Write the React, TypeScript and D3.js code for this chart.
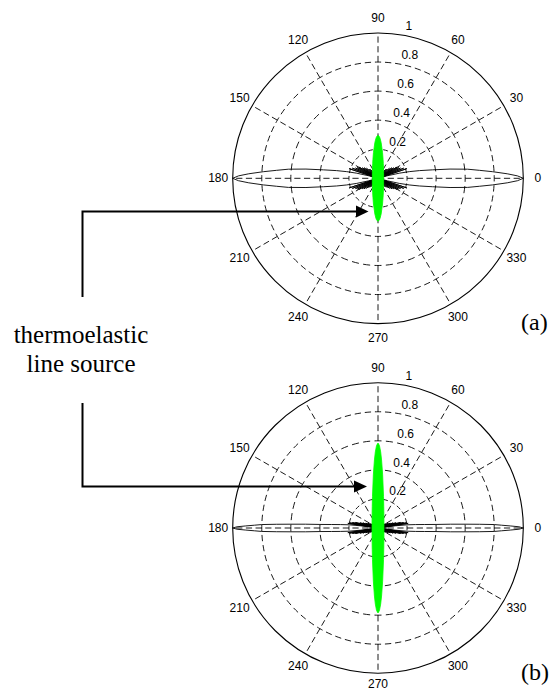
import React from 'react';
import * as d3 from 'd3';

// ---------- data ----------
const angleTicks = [0, 30, 60, 90, 120, 150, 180, 210, 240, 270, 300, 330];
const angleTickLabels = ['0', '30', '60', '90', '120', '150', '180', '210', '240', '270', '300', '330'];
const ringValues = [0.2, 0.4, 0.6, 0.8, 1];
const ringLabels = ['0.2', '0.4', '0.6', '0.8', '1'];
const panelLabels = ['(a)', '(b)'];
const sourceLabelLines = ['thermoelastic', 'line source'];

// black pattern, first quadrant (deg, normalized amplitude); mirrored into the other quadrants
const blackAnglesA = [0, 1, 2, 3.3, 4.5, 5.8, 7.3, 8.8, 10.5, 12, 13.5, 15, 16.5,
  18.5, 20, 21.5, 23, 24.5, 26, 27.5, 29, 30.5, 32, 33.5, 35, 37, 39, 41, 43, 45, 47, 49.5, 52, 55, 58, 62, 66, 90];
const blackRadiiA = [1, 0.96, 0.89, 0.79, 0.7, 0.62, 0.5, 0.38, 0.29, 0.22, 0.15, 0.07, 0,
  0.21, 0, 0.19, 0, 0.17, 0, 0.16, 0, 0.15, 0, 0.13, 0, 0.12, 0, 0.105, 0, 0.09, 0, 0.08, 0, 0.06, 0, 0.04, 0, 0];

const blackAnglesB = [0, 0.5, 0.9, 1.3, 1.7, 2.1, 2.5, 3, 3.5, 4.3, 5.2, 6.3, 7.2, 8,
  8.8, 9.6, 10.4, 11.2, 12, 12.8, 13.8, 14.8, 16, 17.2, 18.5, 20, 21.5, 23, 25, 27, 29.5, 32, 35, 38, 42, 46, 90];
const blackRadiiB = [1, 0.97, 0.91, 0.85, 0.8, 0.7, 0.6, 0.5, 0.4, 0.32, 0.26, 0.2, 0.12, 0,
  0.21, 0, 0.2, 0, 0.18, 0, 0.16, 0, 0.13, 0, 0.11, 0, 0.09, 0, 0.075, 0, 0.06, 0, 0.045, 0, 0.035, 0, 0];

// green pattern, first quadrant (deg, normalized amplitude); mirrored
const greenAngles = [0, 15, 30, 45, 60, 70, 75, 80, 85, 87, 88, 89, 90];
const greenRadiiA = [0.039, 0.0403, 0.0449, 0.0547, 0.076, 0.107, 0.135, 0.18, 0.247, 0.275, 0.286, 0.292, 0.296];
const greenRadiiB = [0.041, 0.0424, 0.0473, 0.0578, 0.0814, 0.1177, 0.153, 0.219, 0.367, 0.469, 0.524, 0.568, 0.585];

// ---------- layout ----------
const W = 552;
const H = 691;
const R = 145.3;
const panels = [
  { cx: 378, cy: 178.3, blackA: blackAnglesA, blackR: blackRadiiA, greenR: greenRadiiA, labelY: 330 },
  { cx: 378, cy: 528, blackA: blackAnglesB, blackR: blackRadiiB, greenR: greenRadiiB, labelY: 680 },
];

const rScale = d3.scaleLinear().domain([0, 1]).range([0, R]);
const toRad = (deg: number) => (deg * Math.PI) / 180;

function mirror(angles: number[], radii: number[]): [number, number][] {
  const q1 = angles.map((a, i) => [a, radii[i]] as [number, number]);
  const rev = [...q1].reverse();
  return [
    ...q1,
    ...rev.map(([a, r]) => [180 - a, r] as [number, number]),
    ...q1.map(([a, r]) => [180 + a, r] as [number, number]),
    ...rev.map(([a, r]) => [360 - a, r] as [number, number]),
  ];
}

const radialLine = (curve: d3.CurveFactory) =>
  d3
    .lineRadial<[number, number]>()
    .angle((d) => Math.PI / 2 - toRad(d[0]))
    .radius((d) => rScale(d[1]))
    .curve(curve);

function Grid() {
  const rings = [0, ...ringValues];
  const els: React.ReactNode[] = [];
  ringValues.slice(0, 4).forEach((v, i) => {
    const rad = rScale(v);
    const L = (rad * Math.PI) / 6;
    const n = Math.max(2, Math.round(L / 10.5));
    const p = L / n;
    const dash = 0.62 * p;
    for (let k = 0; k < 12; k++) {
      const a0 = toRad(30 * k);
      const a1 = toRad(30 * (k + 1));
      const path = d3.path();
      path.moveTo(rad * Math.cos(a0), rad * Math.sin(a0));
      path.arc(0, 0, rad, a0, a1);
      els.push(
        <path key={`r${i}-${k}`} d={path.toString()} fill="none" stroke="#000" strokeWidth={0.9}
          strokeDasharray={`${dash} ${p - dash}`} strokeDashoffset={dash / 2} />
      );
    }
  });
  angleTicks.forEach((deg, j) => {
    const c = Math.cos(toRad(deg));
    const s = Math.sin(toRad(deg));
    for (let i = 1; i < rings.length; i++) {
      const r0 = rScale(rings[i - 1]);
      const r1 = rScale(rings[i]);
      const L = r1 - r0;
      const n = Math.max(2, Math.round(L / 10.5));
      const p = L / n;
      const dash = 0.64 * p;
      els.push(
        <line key={`s${j}-${i}`} x1={r0 * c} y1={-r0 * s} x2={r1 * c} y2={-r1 * s}
          stroke="#000" strokeWidth={0.9} strokeDasharray={`${dash} ${p - dash}`} />
      );
    }
  });
  return <g>{els}</g>;
}

function Panel({ p }: { p: (typeof panels)[number] }) {
  const black = mirror(p.blackA, p.blackR);
  const green = mirror(greenAngles, p.greenR);
  const blackPath = radialLine(d3.curveLinearClosed)(black) || '';
  const greenPath = radialLine(d3.curveLinearClosed)(green) || '';
  const c82 = Math.cos(toRad(82));
  const s82 = Math.sin(toRad(82));
  return (
    <g transform={`translate(${p.cx},${p.cy})`}>
      <Grid />
      <circle r={R} fill="none" stroke="#000" strokeWidth={1.1} />
      {angleTicks.map((deg, i) => {
        const ly = Math.min(-1.1 * R * Math.sin(toRad(deg)), H - 7 - p.cy);
        return (
          <text key={`al${i}`} x={1.1 * R * Math.cos(toRad(deg))} y={ly}
            textAnchor="middle" dominantBaseline="central" fontFamily="'Liberation Sans', Arial, sans-serif"
            fontSize={12}>{angleTickLabels[i]}</text>
        );
      })}
      {ringValues.map((v, i) => (
        <text key={`rl${i}`} x={rScale(v + 0.01) * c82 + 7} y={-rScale(v + 0.01) * s82 - 2.5}
          textAnchor="start" fontFamily="'Liberation Sans', Arial, sans-serif" fontSize={12}>{ringLabels[i]}</text>
      ))}
      <path d={blackPath} fill="none" stroke="#000" strokeWidth={0.9} strokeLinejoin="round" />
      <path d={greenPath} fill="#00ff00" stroke="#00ff00" strokeWidth={0.8} />
    </g>
  );
}

export default function App() {
  const arrowTopY = 211.5;
  const arrowBotY = 486.5;
  const lx = 82.5;
  return (
    <svg width={W} height={H} viewBox={`0 0 ${W} ${H}`}
      style={{ position: 'absolute', left: 0, top: 0, background: '#fff' }}>
      <rect width={W} height={H} fill="#fff" />
      {panels.map((p, i) => (
        <Panel key={i} p={p} />
      ))}
      {panels.map((p, i) => (
        <text key={`pl${i}`} x={521} y={p.labelY} fontFamily="'Times New Roman', 'Liberation Serif', serif"
          fontSize={24}>{panelLabels[i]}</text>
      ))}
      {sourceLabelLines.map((t, i) => (
        <text key={`sl${i}`} x={81} y={342.5 + i * 29} textAnchor="middle"
          fontFamily="'Times New Roman', 'Liberation Serif', serif" fontSize={25}>{t}</text>
      ))}
      <polyline points={`${lx},297 ${lx},${arrowTopY} 357,${arrowTopY}`} fill="none" stroke="#000" strokeWidth={2} />
      <polygon points={`356,${arrowTopY - 6} 368.5,${arrowTopY} 356,${arrowTopY + 6}`} fill="#000" />
      <polyline points={`${lx},403 ${lx},${arrowBotY} 355,${arrowBotY}`} fill="none" stroke="#000" strokeWidth={2} />
      <polygon points={`354,${arrowBotY - 6} 367,${arrowBotY} 354,${arrowBotY + 6}`} fill="#000" />
    </svg>
  );
}
